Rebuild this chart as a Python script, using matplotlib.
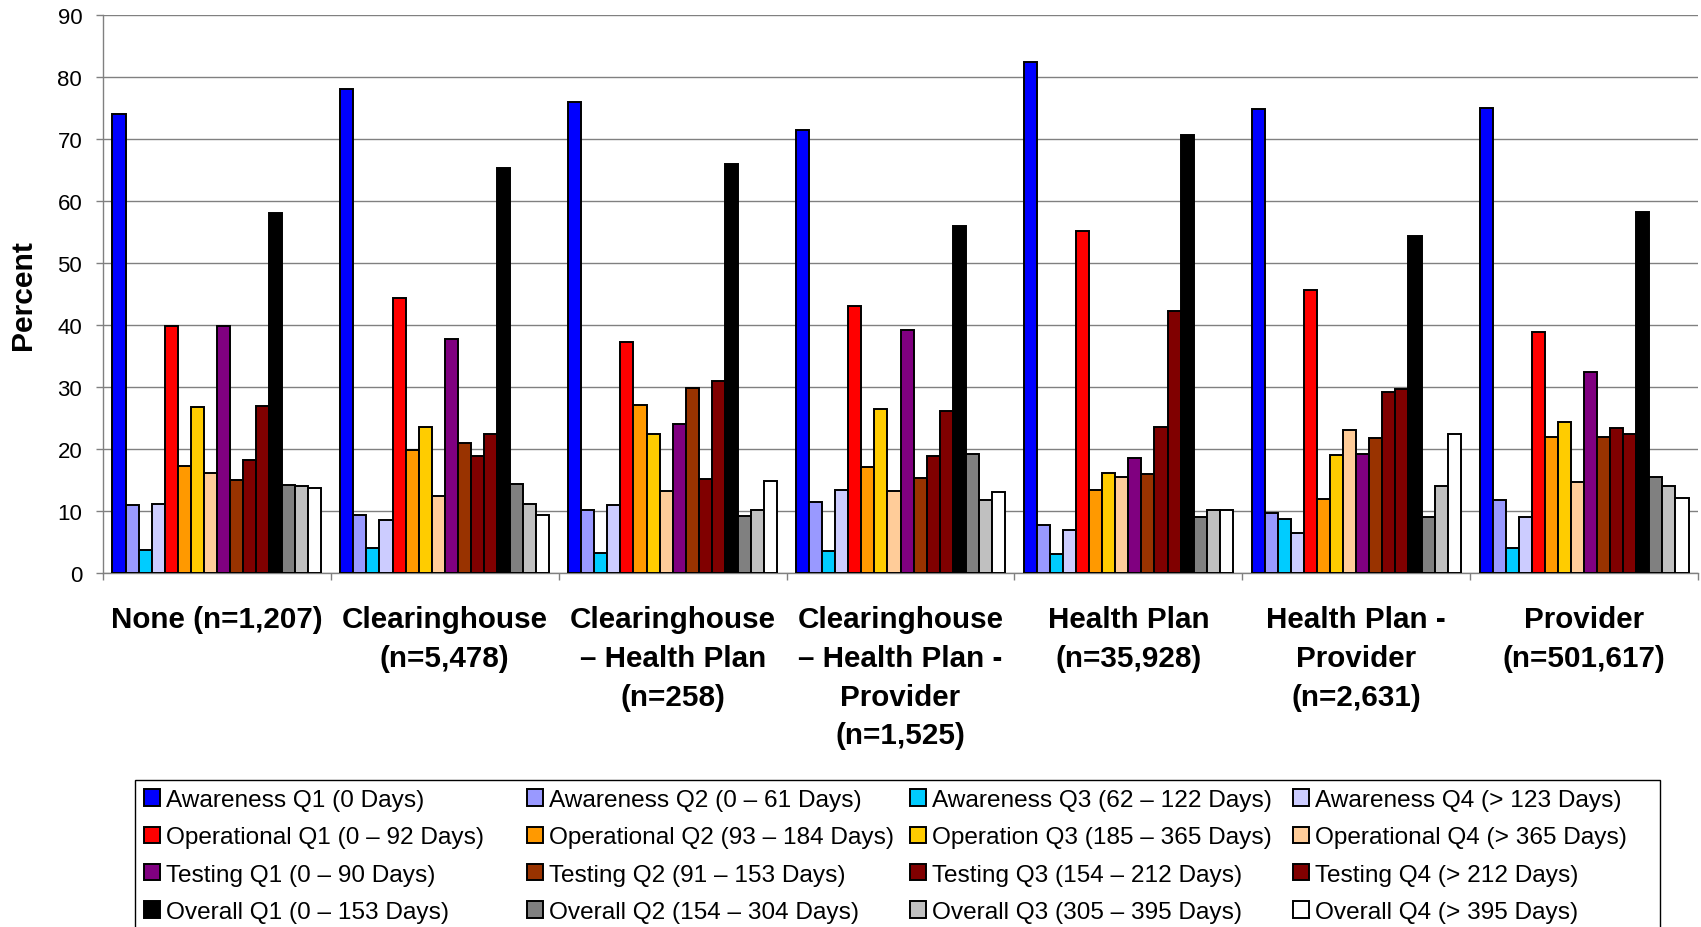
import numpy as np
import matplotlib
matplotlib.use("Agg")
import matplotlib.pyplot as plt
from matplotlib.patches import Rectangle

plt.rcParams['font.family'] = ['Liberation Sans', 'DejaVu Sans']

categories = [
    "None (n=1,207)",
    "Clearinghouse\n(n=5,478)",
    "Clearinghouse\n– Health Plan\n(n=258)",
    "Clearinghouse\n– Health Plan -\nProvider\n(n=1,525)",
    "Health Plan\n(n=35,928)",
    "Health Plan -\nProvider\n(n=2,631)",
    "Provider\n(n=501,617)",
]

# Percent of submitters in each quartile, one row per quartile (Q1..Q4)
awareness = [
    [74.1, 78.0, 76.0, 71.5, 82.4, 74.9, 75.0],
    [11.0, 9.4, 10.1, 11.5, 7.7, 9.7, 11.8],
    [3.7, 4.1, 3.2, 3.5, 3.0, 8.7, 4.0],
    [11.1, 8.6, 10.9, 13.4, 6.9, 6.5, 9.0],
]
operational = [
    [39.9, 44.3, 37.2, 43.0, 55.1, 45.6, 38.8],
    [17.2, 19.9, 27.1, 17.1, 13.4, 12.0, 22.0],
    [26.8, 23.6, 22.5, 26.4, 16.1, 19.1, 24.3],
    [16.1, 12.4, 13.2, 13.3, 15.5, 23.1, 14.7],
]
testing = [
    [39.9, 37.7, 24.0, 39.2, 18.5, 19.2, 32.4],
    [15.0, 21.0, 29.8, 15.4, 15.9, 21.7, 21.9],
    [18.2, 18.8, 15.1, 18.9, 23.5, 29.2, 23.4],
    [26.9, 22.5, 30.9, 26.2, 42.3, 29.6, 22.4],
]
overall = [
    [58.0, 65.4, 66.0, 56.0, 70.7, 54.3, 58.3],
    [14.2, 14.3, 9.2, 19.2, 9.1, 9.0, 15.5],
    [14.1, 11.2, 10.1, 11.8, 10.1, 14.1, 14.1],
    [13.7, 9.4, 14.8, 13.1, 10.1, 22.4, 12.1],
]

series_labels = [
    "Awareness Q1 (0 Days)", "Awareness Q2 (0 – 61 Days)",
    "Awareness Q3 (62 – 122 Days)", "Awareness Q4 (> 123 Days)",
    "Operational Q1 (0 – 92 Days)", "Operational Q2 (93 – 184 Days)",
    "Operation Q3 (185 – 365 Days)", "Operational Q4 (> 365 Days)",
    "Testing Q1 (0 – 90 Days)", "Testing Q2 (91 – 153 Days)",
    "Testing Q3 (154 – 212 Days)", "Testing Q4 (> 212 Days)",
    "Overall Q1 (0 – 153 Days)", "Overall Q2 (154 – 304 Days)",
    "Overall Q3 (305 – 395 Days)", "Overall Q4 (> 395 Days)",
]
series_colors = [
    "#0000FF", "#9999FF", "#00CCFF", "#CCCCFF",
    "#FF0000", "#FF9900", "#FFCC00", "#FFCC99",
    "#800080", "#993300", "#800000", "#800000",
    "#000000", "#808080", "#C0C0C0", "#FFFFFF",
]

series_values = awareness + operational + testing + overall

W, H = 1701, 928
fig = plt.figure(figsize=(W / 100, H / 100), dpi=100)
ax = fig.add_axes([103 / W, 1 - 574 / H, (1698 - 103) / W, (574 - 16) / H])

x = np.arange(len(categories))
n_series = len(series_values)
bar_w = 0.917 / n_series
handles = []
for s, (vals, col, lab) in enumerate(zip(series_values, series_colors, series_labels)):
    bars = ax.bar(x + (s - (n_series - 1) / 2) * bar_w, vals, width=bar_w,
                  color=col, edgecolor="black", linewidth=1.4, label=lab, zorder=3)
    handles.append(bars)

ax.set_xlim(-0.5, len(categories) - 0.5)
ax.set_ylim(0, 90)
ax.set_yticks(np.arange(0, 91, 10))
ax.yaxis.grid(True, color="#808080", linewidth=1.0)
ax.set_axisbelow(True)
for side in ("top", "right"):
    ax.spines[side].set_visible(False)
for side in ("left", "bottom"):
    ax.spines[side].set_color("#808080")
    ax.spines[side].set_linewidth(1.0)

ax.set_xticks(x)
ax.set_xticklabels(categories, fontsize=21.3, fontweight="bold", linespacing=1.49)
ax.set_xticks(np.arange(-0.5, len(categories), 1), minor=True)
ax.tick_params(axis="x", which="major", length=0, pad=23)
ax.tick_params(axis="x", which="minor", length=5, color="#808080", width=1.0)
ax.tick_params(axis="y", length=5, pad=10, labelsize=16, color="#808080", width=1.0)

ax.set_ylabel("Percent", fontsize=21.6, fontweight="bold")
ax.yaxis.set_label_coords((37 - 103) / 1595, 0.5)

# Legend: four columns (one per quartile), rows by measure
col_x = [144, 527, 910, 1293]
for c in range(4):
    hs = [handles[m * 4 + c] for m in range(4)]
    ls = [series_labels[m * 4 + c] for m in range(4)]
    fig.legend(hs, ls, loc="upper left",
               bbox_to_anchor=(col_x[c] / W, 1 - 790 / H),
               frameon=False, fontsize=17.6, borderpad=0, borderaxespad=0,
               handlelength=0.66, handleheight=0.66, handletextpad=0.25,
               labelspacing=0.63)
frame = Rectangle((135 / W, -0.05), (1660 - 135) / W, (1 - 781 / H) + 0.05,
                  transform=fig.transFigure, facecolor="none",
                  edgecolor="black", linewidth=1.0)
fig.add_artist(frame)

fig.savefig("out.png", dpi=100)
